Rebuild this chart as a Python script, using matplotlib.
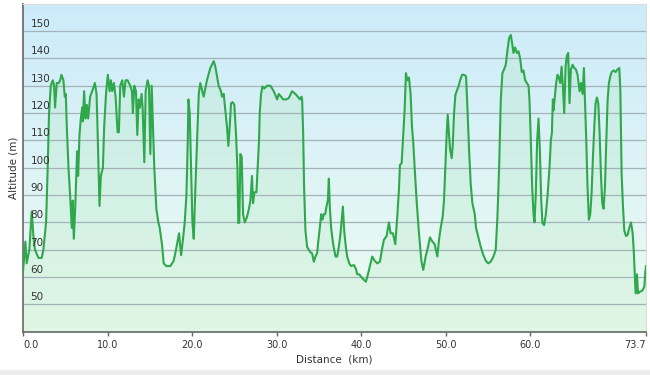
import numpy as np
import matplotlib
matplotlib.use("Agg")
import matplotlib.pyplot as plt
from matplotlib.patches import Rectangle

# elevation profile
distance_km = [
    0.00, 0.28, 0.43, 0.75, 1.03, 1.23, 1.42, 1.82, 2.21, 2.41, 2.73, 2.92, 3.08, 3.28, 3.52, 3.68,
    3.79, 3.99, 4.23, 4.39, 4.55, 4.78, 4.94, 5.06, 5.18, 5.38, 5.57, 5.77, 5.89, 6.01, 6.17, 6.28,
    6.40, 6.52, 6.68, 6.84, 7.00, 7.08, 7.23, 7.39, 7.55, 7.71, 7.94, 8.18, 8.50, 8.70, 8.81, 8.93,
    9.05, 9.21, 9.45, 9.60, 9.84, 10.04, 10.24, 10.40, 10.55, 10.75, 10.95, 11.19, 11.34, 11.50,
    11.74, 11.94, 12.13, 12.37, 12.69, 12.89, 13.00, 13.16, 13.36, 13.52, 13.68, 13.83, 14.03,
    14.15, 14.35, 14.51, 14.74, 14.90, 15.06, 15.22, 15.38, 15.53, 15.77, 16.01, 16.17, 16.44,
    16.64, 16.96, 17.43, 17.83, 18.10, 18.34, 18.46, 18.70, 18.93, 19.13, 19.33, 19.49, 19.57,
    19.72, 19.88, 20.04, 20.20, 20.36, 20.59, 20.79,
    20.97, 21.37, 21.76, 22.16, 22.56, 22.75, 23.14, 23.42, 23.54, 23.74, 23.93, 24.13, 24.29,
    24.45, 24.61, 24.80, 25.00, 25.20, 25.36, 25.47, 25.59, 25.71, 25.87, 26.03, 26.23, 26.50,
    26.70, 26.90, 27.09, 27.21, 27.37, 27.61, 27.76, 27.92, 28.00, 28.16, 28.32, 28.55, 28.87,
    29.27, 29.66, 30.06, 30.25, 30.53, 30.77, 31.16, 31.44, 31.83, 32.23, 32.50, 32.74, 32.94,
    33.02, 33.14, 33.25, 33.41, 33.61, 33.81, 34.00, 34.20, 34.40, 34.60, 34.79, 34.95, 35.11,
    35.27, 35.43, 35.58, 35.74, 35.90, 36.06, 36.18, 36.29, 36.45, 36.69, 36.97, 37.16, 37.36,
    37.56, 37.84, 37.99, 38.19, 38.35, 38.59, 38.82, 39.14, 39.38, 39.53, 39.77, 40.01, 40.32,
    40.56, 40.72, 41.03, 41.31, 41.59, 41.90, 42.22, 42.46, 42.69, 43.01, 43.29, 43.48, 43.76,
    44.04, 44.27, 44.47, 44.59, 44.79, 44.94, 45.14, 45.30, 45.46, 45.66, 45.85, 46.01, 46.17,
    46.33, 46.56, 46.84, 47.12, 47.35,
    47.63, 47.91, 48.14, 48.42, 48.70, 49.01, 49.21, 49.41, 49.64, 49.80, 49.96, 50.12, 50.24,
    50.36, 50.51, 50.71, 50.83, 50.99, 51.15, 51.30, 51.54, 51.70, 51.94, 52.17, 52.41, 52.57,
    52.76, 52.96, 53.16, 53.44, 53.59, 53.83, 54.15, 54.46, 54.74, 55.02, 55.33, 55.65, 55.92,
    56.12, 56.32, 56.52, 56.71, 56.91, 57.11, 57.31, 57.50, 57.70, 57.86, 58.02, 58.21, 58.41,
    58.61, 58.81, 59.00, 59.20, 59.40, 59.60, 59.80, 59.91, 60.07, 60.23, 60.39, 60.51, 60.66,
    60.82, 60.98, 61.14, 61.30, 61.45, 61.65, 61.85, 62.04, 62.28, 62.44, 62.56, 62.68, 62.76,
    62.91, 63.07, 63.23, 63.39, 63.55, 63.71, 63.86, 64.02, 64.18, 64.34, 64.49, 64.65, 64.81,
    65.01, 65.21, 65.40, 65.60, 65.84, 66.00, 66.19, 66.35, 66.47, 66.63, 66.78, 66.94, 67.10,
    67.26, 67.42, 67.58, 67.73, 67.89, 68.05, 68.21, 68.36, 68.52, 68.68, 68.84, 69.00, 69.16,
    69.31, 69.47, 69.63, 69.87, 70.10, 70.34, 70.54, 70.66, 70.81, 70.97, 71.13, 71.33, 71.52,
    71.72, 71.92, 72.12, 72.24, 72.35, 72.47, 72.63, 72.75, 72.95, 73.26, 73.50, 73.62, 73.70,
]
altitude_m = [
    62, 73, 65, 70, 84, 75, 70, 67, 67, 70, 80, 100, 120, 130, 132, 130,
    122, 131, 131, 132, 134, 132, 126, 127, 115, 100, 90, 78, 88, 74, 85, 95,
    106, 97, 112, 118, 122, 117, 128, 118, 123, 118, 126, 128, 131, 127, 115, 100,
    86, 97, 100, 115, 128, 134, 128, 132, 128, 131, 126, 113, 113, 130,
    132, 126, 132, 132, 130, 128, 120, 130, 128, 112, 125, 122, 127,
    122, 102, 128, 132, 130, 105, 130, 115, 100, 85, 80, 78, 72,
    65, 64, 64, 66, 70, 74, 76, 68, 74, 80, 90, 110, 125,
    120, 100, 80, 74, 90, 110, 127,
    131, 126, 132, 136.5, 139, 137, 130, 128, 126, 127, 121, 115, 108,
    115, 123.6, 124, 123, 112, 100, 79.7, 80, 105, 104, 83, 80, 82,
    84.6, 88, 97, 87, 91, 91, 100, 110, 120, 127, 129.7, 129, 130,
    130, 128, 125, 127, 126, 125, 125, 125.5, 128, 127, 126, 125, 126,
    125, 112.6, 93, 77, 71, 70, 69, 68.7, 65.6, 67.5, 68.7, 73.6, 78,
    83, 81, 83, 83, 85.8, 88, 96, 85.8, 78, 72, 67.5, 67.5, 71,
    76, 85.8, 77, 71, 67.5, 65, 64, 64.4, 63, 61, 61, 60, 59,
    58.3, 60, 64, 67.5, 66, 65, 65.6, 70, 73.6, 75, 80, 76, 76,
    72, 82, 92, 101, 101.7, 110, 121, 134.6, 132, 133, 127, 115, 109,
    100, 88, 76, 66, 62.6,
    67.5, 71, 74.5, 73, 72, 67.5, 73.6, 78, 82, 88, 100, 112.6, 119.4,
    114, 107, 103.5, 108, 120, 126.7, 128, 130, 132, 134, 134, 133.4, 122,
    107, 94, 87, 83, 78, 75, 71, 68, 66, 65, 65.6, 67.5, 70,
    82, 100, 125, 134.6, 136, 137.7, 143, 147.4, 148.6, 145.6, 142, 144, 142,
    142.6, 140, 135, 135.6, 132, 131, 130, 125, 110, 93, 83, 80, 90.7,
    110, 118, 106.5, 88, 79.7, 79, 83, 89.5, 100, 110, 112.6, 125, 121,
    126, 131, 134, 133, 131, 137, 130, 120, 137, 141, 142, 123.6, 136,
    137.7, 136.5, 136, 134, 128, 131, 127, 136.5, 125, 110, 93, 81, 83,
    90.7, 104, 115, 123.6, 125.7, 123.6, 112.6, 98, 87, 85, 93, 110, 125,
    131, 133.4, 135, 135.6, 135, 136, 136.5, 128.5, 98, 86, 77, 75, 75.4,
    78, 80, 76, 70, 62.6, 54, 61, 54, 54.6, 55, 56.5, 62, 64,
]

x_ticks = [0, 10, 20, 30, 40, 50, 60, 73.7]
y_ticks = [50, 60, 70, 80, 90, 100, 110, 120, 130, 140, 150]

fig = plt.figure(figsize=(6.5, 3.75), dpi=100)
fig.patches.append(Rectangle((0, 0), 1, 0.013, transform=fig.transFigure,
                             color='#ececec', zorder=0))
ax = fig.add_axes([0.0354, 0.1155, 0.9585, 0.8745])
ax.set_xlim(0, 73.7)
ax.set_ylim(40, 160)

# background gradient: light blue on top, pale green at the bottom
top = np.array([0.80, 0.92, 0.98])
bot = np.array([0.94, 0.99, 0.95])
t = np.linspace(0, 1, 256)[:, None]
grad = (top * (1 - t) + bot * t)[:, None, :]
ax.imshow(grad, extent=[0, 73.7, 40, 160], aspect='auto', zorder=0)

ax.fill_between(distance_km, altitude_m, 40, color='#a6e3b0', alpha=0.22,
                lw=0, zorder=1)
for v in y_ticks:
    ax.axhline(v, color='#a3b3b8', lw=0.9, zorder=2)
ax.plot(distance_km, altitude_m, color='#2ea84a', lw=1.5, zorder=3)

ax.set_yticks([])
for v in y_ticks:
    ax.text(0.012, v + 2.6, str(v), transform=ax.get_yaxis_transform(),
            ha='left', va='center', fontsize=7.5, color='#333333', zorder=4)

ax.set_xticks(x_ticks)
ax.set_xticklabels(['%.1f' % v for v in x_ticks], fontsize=7, color='#333333')
labels = ax.get_xticklabels()
labels[0].set_horizontalalignment('left')
labels[-1].set_horizontalalignment('right')
ax.tick_params(axis='x', length=3, width=1, color='#666666', pad=3)

ax.set_xlabel('Distance  (km)', fontsize=7.5, color='#333333', labelpad=3)
ax.set_ylabel('Altitude (m)', fontsize=7.5, color='#333333', labelpad=3)

for s in ['left', 'bottom']:
    ax.spines[s].set_color('#666666')
    ax.spines[s].set_linewidth(1.2)
for s in ['top', 'right']:
    ax.spines[s].set_color('#dddddd')
    ax.spines[s].set_linewidth(0.8)

fig.savefig('out.png', dpi=100)
